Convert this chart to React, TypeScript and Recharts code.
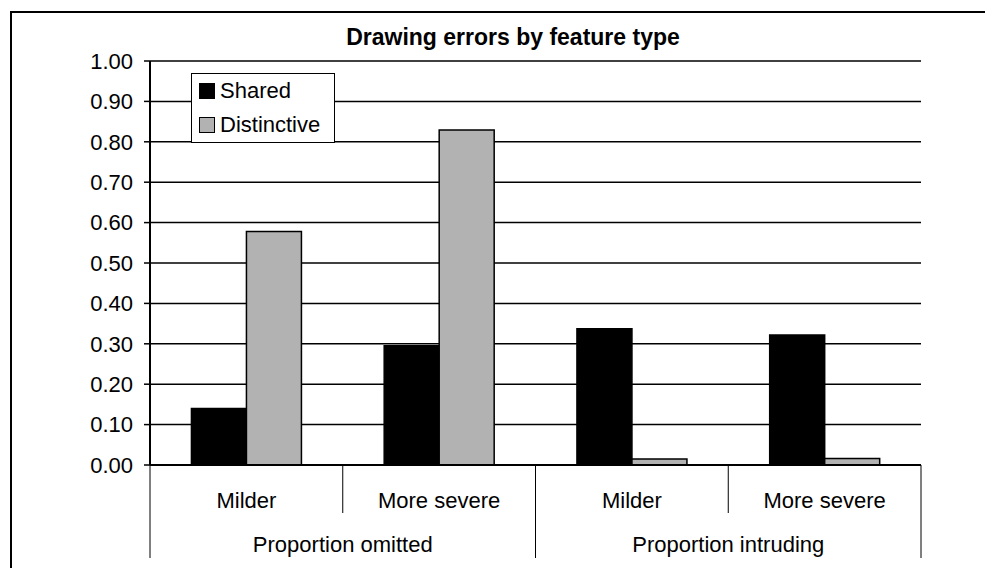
import React from 'react'
import { BarChart, Bar, XAxis, YAxis, CartesianGrid, Legend } from 'recharts'

// values
const SUB_LABELS = ['Milder', 'More severe', 'Milder', 'More severe']
const GROUP_LABELS = ['Proportion omitted', 'Proportion intruding']
const SERIES_NAMES = ['Shared', 'Distinctive']
const SHARED = [0.14, 0.295, 0.337, 0.322]
const DISTINCTIVE = [0.578, 0.829, 0.015, 0.016]
const Y_TICKS = [0, 0.1, 0.2, 0.3, 0.4, 0.5, 0.6, 0.7, 0.8, 0.9, 1.0]

const data = SUB_LABELS.map((sub, i) => ({
  key: `${GROUP_LABELS[Math.floor(i / 2)]}|${sub}|${i}`,
  sub,
  group: GROUP_LABELS[Math.floor(i / 2)],
  shared: SHARED[i],
  distinctive: DISTINCTIVE[i],
}))

const FONT = '"Liberation Sans", Arial, sans-serif'
const W = 985
const H = 560
const MARGIN = { top: 53, right: 72, bottom: 0, left: 0 }
const Y_AXIS_W = 142
const X_AXIS_H = 103
const PLOT_W = W - MARGIN.left - MARGIN.right - Y_AXIS_W

// eslint-disable-next-line @typescript-eslint/no-explicit-any
function CategoryTick(props: any) {
  const { x, y, payload, index } = props
  const half = payload?.offset ? payload.offset : PLOT_W / SUB_LABELS.length / 2
  const isGroupStart = index % 2 === 0
  const isLast = index === SUB_LABELS.length - 1
  return (
    <g>
      <line x1={x - half} x2={x - half} y1={y} y2={y + (isGroupStart ? 93 : 48)} stroke="#000" strokeWidth={1} />
      {isLast && <line x1={x + half} x2={x + half} y1={y} y2={y + 93} stroke="#000" strokeWidth={1} />}
      <text x={x} y={y + 43} textAnchor="middle" fontSize={22} fill="#000">{SUB_LABELS[index]}</text>
      {isGroupStart && (
        <text x={x + half} y={y + 87} textAnchor="middle" fontSize={22} fill="#000">
          {GROUP_LABELS[index / 2]}
        </text>
      )}
    </g>
  )
}

// eslint-disable-next-line @typescript-eslint/no-explicit-any
function LegendBox({ payload }: any) {
  const items = [...(payload || [])].sort(
    (a: any, b: any) => SERIES_NAMES.indexOf(a.value) - SERIES_NAMES.indexOf(b.value)
  )
  return (
    <div style={{ border: '1px solid #000', background: '#fff', padding: '0 0 0 7px', fontFamily: FONT }}>
      {items.map((p: any) => (
        <div key={p.value} style={{ display: 'flex', alignItems: 'center', height: 34, fontSize: 22, color: '#000' }}>
          <span style={{ width: 14, height: 14, background: p.color, border: '1px solid #000', marginRight: 5, display: 'inline-block' }} />
          <span>{p.value}</span>
        </div>
      ))}
    </div>
  )
}

export default function App() {
  return (
    <div style={{ position: 'relative', width: W, height: H, overflow: 'hidden', background: '#fff', fontFamily: FONT }}>
      <div style={{ position: 'absolute', left: 2, top: 3, width: W + 20, height: H + 20, borderLeft: '2px solid #000', borderTop: '2px solid #000' }} />
      <div style={{ position: 'absolute', left: 205, top: 16, width: 600, textAlign: 'center', fontSize: 23, fontWeight: 'bold', lineHeight: '26px', color: '#000' }}>
        Drawing errors by feature type
      </div>
      <div style={{ position: 'absolute', left: 0, top: 0 }}>
        <BarChart width={W} height={H} data={data} margin={MARGIN} barCategoryGap="21.5%" barGap={0}>
          <CartesianGrid horizontal vertical={false} stroke="#000" strokeWidth={1.5} />
          <XAxis
            dataKey="key"
            height={X_AXIS_H}
            axisLine={{ stroke: '#000', strokeWidth: 2 }}
            tickLine={false}
            tickSize={0}
            tickMargin={0}
            interval={0}
            tick={<CategoryTick />}
          />
          <YAxis
            width={Y_AXIS_W}
            domain={[0, 1]}
            ticks={Y_TICKS}
            interval={0}
            tickFormatter={(v: number) => v.toFixed(2)}
            tick={{ fill: '#000', fontSize: 22 }}
            tickSize={6}
            tickMargin={11}
            tickLine={{ stroke: '#000', strokeWidth: 1.5 }}
            axisLine={{ stroke: '#000', strokeWidth: 2 }}
          />
          <YAxis
            yAxisId="right"
            orientation="right"
            width={0}
            domain={[0, 1]}
            type="number"
            tick={false}
            tickLine={false}
            axisLine={{ stroke: '#000', strokeWidth: 2 }}
          />
          <Legend
            layout="horizontal"
            verticalAlign="middle"
            align="center"
            content={<LegendBox />}
            wrapperStyle={{ position: 'absolute', left: 183, top: 65, width: 144, height: 70 }}
          />
          <Bar dataKey="shared" name={SERIES_NAMES[0]} fill="#000" stroke="#000" strokeWidth={1.5} isAnimationActive={false} />
          <Bar dataKey="distinctive" name={SERIES_NAMES[1]} fill="#b2b2b2" stroke="#000" strokeWidth={1.5} isAnimationActive={false} />
        </BarChart>
      </div>
    </div>
  )
}
